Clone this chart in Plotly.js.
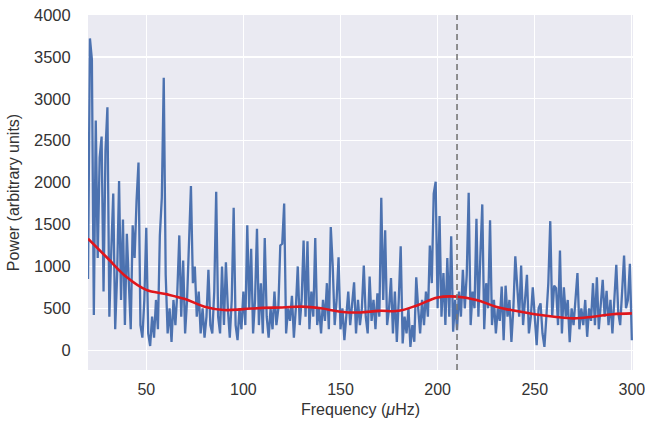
<!DOCTYPE html>
<html>
<head>
<meta charset="utf-8">
<script src="https://cdn.plot.ly/plotly-3.0.1.min.js"></script>
<style>
html,body{margin:0;padding:0;background:#fff;}
#chart{width:645px;height:428px;}
</style>
</head>
<body>
<div id="chart"></div>
<script>
// Frequency grid (muHz), 1 muHz spacing starting at 20
const freqStart = 20;
const power = [
  850, 3720, 3470, 420, 2740, 1100, 2300, 2550, 700, 2380,
  2900, 400, 1200, 1870, 250, 900, 2020, 600, 1560, 300,
  1390, 700, 250, 1490, 1100, 1790, 2240, 300, 150, 600,
  1460, 200, 50, 400, 150, 600, 250, 1370, 1820, 3250,
  900, 200, 500, 100, 600, 300, 700, 1370, 400, 1070,
  200, 600, 1170, 1960, 800, 1000, 400, 700, 200, 500,
  150, 400, 960, 300, 200, 700, 1890, 400, 200, 1000,
  300, 1050, 500, 150, 600, 1700, 300, 120, 500, 250,
  700, 300, 1490, 500, 1210, 200, 600, 1450, 300, 800,
  200, 1340, 400, 150, 500, 250, 700, 300, 500, 1250,
  1270, 1750, 200, 500, 350, 650, 150, 500, 1000, 300,
  600, 1310, 400, 1300, 250, 700, 400, 1340, 300, 500,
  200, 600, 350, 800, 250, 1470, 1000, 300, 600, 1110,
  250, 500, 120, 400, 700, 300, 550, 810, 200, 600,
  300, 500, 1010, 400, 200, 880, 350, 600, 250, 680,
  400, 1820, 600, 1430, 300, 500, 860, 200, 700, 100,
  600, 1240, 80, 400, 200, 500, 40, 300, 100, 870,
  500, 200, 600, 300, 700, 400, 1250, 800, 1870, 2010,
  500, 1600, 400, 920, 300, 1100, 400, 1360, 220, 600,
  240, 700, 400, 960, 500, 900, 1880, 300, 700, 500,
  1570, 400, 1120, 1740, 250, 800, 500, 1550, 300, 600,
  200, 500, 350, 760, 120, 770, 400, 600, 100, 500,
  1120, 800, 400, 1010, 300, 600, 900, 200, 400, 750,
  400, 60, 500, 560, 200, 40, 400, 800, 1540, 400,
  770, 740, 300, 1190, 200, 750, 400, 600, 95, 500,
  300, 600, 920, 250, 500, 300, 600, 160, 500, 350,
  800, 300, 870, 250, 500, 840, 400, 710, 300, 600,
  200, 700, 1020, 450, 300, 700, 1130, 500, 600, 1030,
  120
];
const freq = power.map((_, i) => freqStart + i);

// Smoothed background (red curve)
const smoothFreq  = [20, 30, 40, 50, 60, 70, 80, 90, 100, 110, 120, 130, 140, 150, 160, 170, 180, 190, 200, 210, 220, 230, 240, 250, 260, 270, 280, 290, 300];
const smoothPower = [1330, 1100, 870, 720, 670, 610, 520, 480, 490, 505, 510, 520, 500, 460, 450, 470, 470, 540, 630, 640, 600, 520, 470, 430, 400, 380, 400, 430, 440];

const numaxFreq = 210;
const yTicks = [0, 500, 1000, 1500, 2000, 2500, 3000, 3500, 4000];
const xTicks = [50, 100, 150, 200, 250, 300];

const traces = [
  {x: freq, y: power, type: 'scatter', mode: 'lines',
   line: {color: '#4C72B0', width: 2.3}, hoverinfo: 'skip'},
  {x: smoothFreq, y: smoothPower, type: 'scatter', mode: 'lines',
   line: {color: '#e0161c', width: 2.6, shape: 'spline', smoothing: 1.1}, hoverinfo: 'skip'}
];

const fontFam = '"Liberation Sans", Arial, sans-serif';
const layout = {
  width: 645, height: 428,
  margin: {l: 88, r: 12, t: 15, b: 58},
  paper_bgcolor: '#ffffff',
  plot_bgcolor: '#EAEAF2',
  showlegend: false,
  font: {family: fontFam, size: 16, color: '#333333'},
  xaxis: {
    range: [20, 300.6],
    tickvals: xTicks, ticktext: xTicks.map(String),
    ticklabeloverflow: 'allow',
    showgrid: true, gridcolor: '#ffffff', gridwidth: 1.2,
    zeroline: false, showline: false,
    ticks: 'outside', ticklen: 5, tickcolor: 'rgba(0,0,0,0)',
    tickfont: {family: fontFam, size: 16, color: '#333333'},
    title: {text: 'Frequency (<i>μ</i>Hz)', font: {family: fontFam, size: 16, color: '#333333'}, standoff: 6}
  },
  yaxis: {
    range: [-236, 4000],
    tickvals: yTicks, ticktext: yTicks.map(String),
    showgrid: true, gridcolor: '#ffffff', gridwidth: 1.2,
    zeroline: false, showline: false,
    ticks: 'outside', ticklen: 13, tickcolor: 'rgba(0,0,0,0)',
    tickfont: {family: fontFam, size: 16.5, color: '#333333'},
    title: {text: 'Power (arbitrary units)', font: {family: fontFam, size: 16, color: '#333333'}, standoff: 10}
  },
  shapes: [{
    type: 'line', xref: 'x', yref: 'paper',
    x0: numaxFreq, x1: numaxFreq, y0: 0, y1: 1,
    line: {color: '#777777', width: 1.6, dash: '6px,4px'}
  }]
};

Plotly.newPlot('chart', traces, layout, {staticPlot: true, displayModeBar: false});
</script>
</body>
</html>
